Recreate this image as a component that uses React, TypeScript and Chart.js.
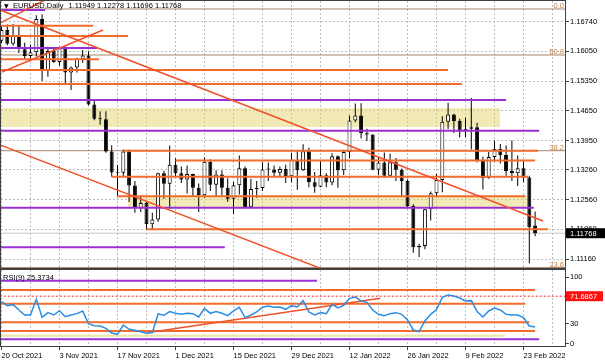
import React, { useEffect, useRef } from 'react';
import { Chart, registerables } from 'chart.js';

Chart.register(...registerables);

// ---------- data ----------
const dates = [
  '2021-10-20', '2021-10-21', '2021-10-22', '2021-10-25', '2021-10-26', '2021-10-27', '2021-10-28', '2021-10-29',
  '2021-11-01', '2021-11-02', '2021-11-03', '2021-11-04', '2021-11-05', '2021-11-08', '2021-11-09', '2021-11-10',
  '2021-11-11', '2021-11-12', '2021-11-15', '2021-11-16', '2021-11-17', '2021-11-18', '2021-11-19', '2021-11-22',
  '2021-11-23', '2021-11-24', '2021-11-25', '2021-11-26', '2021-11-29', '2021-11-30',
  '2021-12-01', '2021-12-02', '2021-12-03', '2021-12-06', '2021-12-07', '2021-12-08', '2021-12-09', '2021-12-10',
  '2021-12-13', '2021-12-14', '2021-12-15', '2021-12-16', '2021-12-17', '2021-12-20', '2021-12-21', '2021-12-22',
  '2021-12-23', '2021-12-24', '2021-12-27', '2021-12-28', '2021-12-29', '2021-12-30', '2021-12-31',
  '2022-01-03', '2022-01-04', '2022-01-05', '2022-01-06', '2022-01-07', '2022-01-10', '2022-01-11', '2022-01-12',
  '2022-01-13', '2022-01-14', '2022-01-17', '2022-01-18', '2022-01-19', '2022-01-20', '2022-01-21', '2022-01-24',
  '2022-01-25', '2022-01-26', '2022-01-27', '2022-01-28', '2022-01-31',
  '2022-02-01', '2022-02-02', '2022-02-03', '2022-02-04', '2022-02-07', '2022-02-08', '2022-02-09', '2022-02-10',
  '2022-02-11', '2022-02-14', '2022-02-15', '2022-02-16', '2022-02-17', '2022-02-18', '2022-02-21', '2022-02-22',
  '2022-02-23', '2022-02-24', '2022-02-25',
];

const opens = [
  1.1630, 1.1655, 1.1623, 1.1643, 1.1610, 1.1594, 1.1603, 1.1681, 1.1560, 1.1606,
  1.1580, 1.1612, 1.1555, 1.1567, 1.1587, 1.1595, 1.1480, 1.1446, 1.1445, 1.1369,
  1.1320, 1.1319, 1.1369, 1.1289, 1.1236, 1.1248, 1.1198, 1.1209, 1.1318, 1.1293,
  1.1338, 1.1318, 1.1303, 1.1316, 1.1284, 1.1266, 1.1345, 1.1291, 1.1315, 1.1284,
  1.1258, 1.1290, 1.1330, 1.1238, 1.1281, 1.1283, 1.1327, 1.1327, 1.1319, 1.1328,
  1.1311, 1.1350, 1.1325, 1.1370, 1.1297, 1.1286, 1.1313, 1.1296, 1.1358, 1.1325,
  1.1368, 1.1442, 1.1454, 1.1412, 1.1409, 1.1326, 1.1343, 1.1312, 1.1344, 1.1326,
  1.1300, 1.1241, 1.1144, 1.1147, 1.1233, 1.1271, 1.1302, 1.1439, 1.1456, 1.1441,
  1.1416, 1.1423, 1.1426, 1.1348, 1.1306, 1.1356, 1.1375, 1.1361, 1.1323, 1.1318,
  1.1330, 1.1308, 1.11949,
];
const highs = [
  1.1667, 1.1668, 1.1669, 1.1665, 1.1625, 1.1621, 1.1690, 1.1692, 1.1616, 1.1613,
  1.1616, 1.1617, 1.1569, 1.1590, 1.1608, 1.1605, 1.1492, 1.1464, 1.1464, 1.1384,
  1.1338, 1.1374, 1.1374, 1.1300, 1.1264, 1.1250, 1.1225, 1.1319, 1.1324, 1.1383,
  1.1353, 1.1334, 1.1336, 1.1317, 1.1294, 1.1355, 1.1351, 1.1325, 1.1325, 1.1306,
  1.1298, 1.1360, 1.1334, 1.1305, 1.1300, 1.1344, 1.1343, 1.1336, 1.1334, 1.1338,
  1.1366, 1.1370, 1.1386, 1.1378, 1.1321, 1.1346, 1.1318, 1.1365, 1.1360, 1.1373,
  1.1454, 1.1482, 1.1483, 1.1423, 1.1410, 1.1354, 1.1367, 1.1364, 1.1354, 1.1329,
  1.1303, 1.1245, 1.1152, 1.1234, 1.1275, 1.1316, 1.1452, 1.1484, 1.1458, 1.1446,
  1.1449, 1.1495, 1.1437, 1.1357, 1.1368, 1.1395, 1.1387, 1.1383, 1.1395, 1.1360,
  1.1346, 1.1312, 1.12278,
];
const lows = [
  1.1624, 1.1619, 1.1618, 1.1601, 1.1585, 1.1587, 1.1593, 1.1535, 1.1545, 1.1578,
  1.1571, 1.1529, 1.1514, 1.1555, 1.1578, 1.1478, 1.1443, 1.1432, 1.1366, 1.1310,
  1.1264, 1.1309, 1.1250, 1.1225, 1.1227, 1.1186, 1.1185, 1.1204, 1.1258, 1.1235,
  1.1309, 1.1295, 1.1270, 1.1263, 1.1227, 1.1260, 1.1276, 1.1264, 1.1266, 1.1251,
  1.1222, 1.1268, 1.1235, 1.1235, 1.1260, 1.1276, 1.1300, 1.1310, 1.1308, 1.1295,
  1.1297, 1.1279, 1.1323, 1.1285, 1.1272, 1.1285, 1.1285, 1.1290, 1.1284, 1.1314,
  1.1354, 1.1438, 1.1400, 1.1394, 1.1325, 1.1313, 1.1307, 1.1310, 1.1300, 1.1263,
  1.1235, 1.1131, 1.1121, 1.1139, 1.1207, 1.1264, 1.1273, 1.1422, 1.1413, 1.1402,
  1.1403, 1.1374, 1.1344, 1.1280, 1.1305, 1.1345, 1.1341, 1.1312, 1.1300, 1.1288,
  1.1297, 1.1106, 1.11696,
];
const closes = [
  1.1655, 1.1623, 1.1643, 1.1610, 1.1594, 1.1603, 1.1681, 1.1559, 1.1606, 1.1580,
  1.1612, 1.1555, 1.1567, 1.1587, 1.1595, 1.1480, 1.1446, 1.1445, 1.1369, 1.1320,
  1.1319, 1.1369, 1.1289, 1.1236, 1.1248, 1.1198, 1.1209, 1.1318, 1.1293, 1.1338,
  1.1318, 1.1303, 1.1316, 1.1284, 1.1266, 1.1345, 1.1291, 1.1315, 1.1284, 1.1258,
  1.1290, 1.1330, 1.1238, 1.1281, 1.1283, 1.1327, 1.1327, 1.1319, 1.1328, 1.1311,
  1.1350, 1.1325, 1.1370, 1.1297, 1.1286, 1.1313, 1.1296, 1.1358, 1.1325, 1.1368,
  1.1442, 1.1454, 1.1412, 1.1409, 1.1326, 1.1343, 1.1312, 1.1344, 1.1326, 1.1300,
  1.1241, 1.1144, 1.1147, 1.1233, 1.1271, 1.1302, 1.1439, 1.1456, 1.1441, 1.1416,
  1.1423, 1.1426, 1.1348, 1.1306, 1.1356, 1.1375, 1.1361, 1.1323, 1.1318, 1.1330,
  1.1308, 1.1191, 1.11768,
];

const rsiValues = [
  63.5, 57.5, 59, 51, 43.5, 43.5, 67, 40, 47, 43.5,
  50, 41, 43.5, 45.5, 49.5, 30.5, 27.5, 27, 23.5, 16.5,
  14.5, 28.5, 22, 20.5, 18.5, 16, 17, 45, 43, 48.5,
  46, 44.5, 46, 45.5, 40.5, 53.5, 46, 48.5, 46, 42.5,
  49.5, 55, 39.5, 43.5, 48, 55, 57, 55, 55.5, 52,
  57.5, 55.5, 65, 48, 43.5, 47, 45.5, 59.5, 54, 58,
  68.5, 70.5, 64.5, 62.5, 51, 44.5, 42.5, 45.5, 47, 44.5,
  36, 21, 18.5, 34.5, 44.5, 51.5, 70, 73.5, 72, 69,
  64.5, 65, 48.5, 40.5, 49.5, 54, 51, 44.5, 43.5, 43.5,
  39.5, 27, 25.3734,
];

const priceTicks = [1.1674, 1.1605, 1.1535, 1.1465, 1.1395, 1.1326, 1.1256, 1.1186, 1.1116];
const priceTickLabels = ['1.16740', '1.16050', '1.15350', '1.14650', '1.13950', '1.13260', '1.12560', '1.11860', '1.11160'];
const rsiTicks = [100, 30, 0];
const rsiTickLabels = ['100', '30', '0'];
const gridTicks = [0, 5, 10, 15, 20, 25, 30, 35, 40, 45, 50, 55, 60, 65, 70, 75, 80, 85, 90, 95];
const dateTickLabels = ['20 Oct 2021', '3 Nov 2021', '17 Nov 2021', '1 Dec 2021', '15 Dec 2021',
  '29 Dec 2021', '12 Jan 2022', '26 Jan 2022', '9 Feb 2022', '23 Feb 2022'];

const orangeLevels = [
  { price: 1.16653, from: -1, to: 15.8 },
  { price: 1.16410, from: -1, to: 21.8 },
  { price: 1.15862, from: -1, to: 16.8 },
  { price: 1.15610, from: -1, to: 77 },
  { price: 1.15281, from: -1, to: 79.4 },
  { price: 1.13710, from: 21, to: 92.5 },
  { price: 1.13480, from: 30, to: 92 },
  { price: 1.13100, from: 19, to: 90.8 },
  { price: 1.12640, from: 20, to: 90.3 },
  { price: 1.11860, from: 25, to: 94.2 },
];
const purpleLevels = [
  { price: 1.17023, from: -1, to: 7.5 },
  { price: 1.16128, from: -1, to: 16.5 },
  { price: 1.14904, from: -1, to: 87 },
  { price: 1.14181, from: -1, to: 92.7 },
  { price: 1.12366, from: -1, to: 91.8 },
  { price: 1.11437, from: -1, to: 38.5 },
];
const zones = [
  { top: 1.14716, bottom: 1.14269, from: -1, to: 86 },
  { top: 1.12630, bottom: 1.12390, from: 21.8, to: 90.6 },
];
const trendLines = [
  { x1: -0.26, y1: 1.17022, x2: 93.36, y2: 1.12055 },
  { x1: -0.26, y1: 1.13849, x2: 55.9, y2: 1.10895 },
  { x1: -0.26, y1: 1.16716, x2: 7.5, y2: 1.17258 },
  { x1: 0.09, y1: 1.15563, x2: 17.5, y2: 1.16552 },
];
const fibLevels = [
  { price: 1.17046, label: '0.0' },
  { price: 1.15963, label: '50.0' },
  { price: 1.13710, label: '38.2' },
  { price: 1.10960, label: '23.6' },
];

const rsiOrangeLevels = [
  { v: 81, from: -1, to: 92 },
  { v: 60.4, from: -1, to: 90.3 },
  { v: 32.5, from: -1, to: 91 },
  { v: 19.5, from: -1, to: 92 },
];
const rsiPurpleLevels = [
  { v: 94.9, from: -1, to: 54.4 },
  { v: 7, from: -1, to: 92.7 },
];
const rsiYellowLevels = [{ v: 12.4, from: -1, to: 86.8 }];
const rsiMarkLevel = 71.6867;
const rsiTrend = { x1: 25.1, y1: 16.9, x2: 65.3, y2: 68.5 };

const symbolTitle = 'EURUSD,Daily';
const rsiTitle = 'RSI(9)';

// ---------- styles ----------
const FONT = '"Liberation Sans", Arial, sans-serif';
const ORANGE = '#f36b2d';
const TREND = '#f0522b';
const PURPLE = '#9a2fd4';
const FIB_LINE = '#a9856b';
const FIB_TEXT = '#c0864e';
const ZONE = 'rgba(228,214,110,0.5)';
const GRID = '#bdbdbd';
const FRAME = '#404040';
const X_MIN = -0.0862;
const X_MAX = 97.155;
const P_MIN = 1.109492;
const P_MAX = 1.172343;
const R_MIN = -3.0;
const R_MAX = 110.94;

const hline = (y: number, from: number, to: number, color: string, width: number, order: number, dash: number[] = []) => ({
  type: 'line',
  data: [{ x: from, y }, { x: to, y }],
  borderColor: color,
  borderWidth: width,
  borderDash: dash,
  pointRadius: 0,
  fill: false,
  tension: 0,
  order,
});
const seg = (x1: number, y1: number, x2: number, y2: number, color: string, width: number, order: number) => ({
  type: 'line',
  data: [{ x: x1, y: y1 }, { x: x2, y: y2 }],
  borderColor: color,
  borderWidth: width,
  pointRadius: 0,
  fill: false,
  tension: 0,
  order,
});

export default function App() {
  const mainRef = useRef<HTMLCanvasElement>(null);
  const rsiRef = useRef<HTMLCanvasElement>(null);

  useEffect(() => {
    const n = dates.length;
    const last = n - 1;
    const idx = dates.map((_, i) => i);

    const wickData = idx.map((i) => ({ x: i, y: [lows[i], highs[i]] }));
    const bodyData = idx.map((i) => ({ x: i, y: [opens[i], closes[i]] }));
    const bodyColors = idx.map((i) => (closes[i] >= opens[i] ? '#ffffff' : '#000000'));

    const headerText = [opens[last], highs[last], lows[last], closes[last]].map((v) => v.toFixed(5)).join(' ');

    const mainOverlay = {
      id: 'mainOverlay',
      afterDraw(chart: any) {
        const { ctx, chartArea: a, scales } = chart;
        const y = scales.y;
        ctx.save();
        ctx.strokeStyle = FRAME;
        ctx.lineWidth = 1;
        ctx.strokeRect(a.left - 0.5, a.top - 0.5, a.right - a.left + 1, a.bottom - a.top + 1);
        ctx.font = `7.5px ${FONT}`;
        ctx.textAlign = 'right';
        ctx.textBaseline = 'alphabetic';
        ctx.fillStyle = FIB_TEXT;
        for (const f of fibLevels) ctx.fillText(f.label, a.right - 1, y.getPixelForValue(f.price) - 1);
        ctx.fillStyle = '#000';
        ctx.textAlign = 'left';
        ctx.textBaseline = 'middle';
        ctx.font = '6px "DejaVu Sans"';
        ctx.fillText('\u25BC', a.left + 3, a.top + 5);
        ctx.font = `7.5px ${FONT}`;
        ctx.fillText(symbolTitle, a.left + 12, a.top + 5);
        const tw = ctx.measureText(symbolTitle).width;
        ctx.fillText(headerText, Math.max(a.left + 59, a.left + 12 + tw + 5), a.top + 5);
        const py = y.getPixelForValue(closes[last]);
        ctx.fillStyle = '#000';
        ctx.fillRect(a.right + 1, py - 5, 40, 10);
        ctx.fillStyle = '#fff';
        ctx.fillText(closes[last].toFixed(5), a.right + 5, py + 0.5);
        ctx.restore();
      },
    };

    const rsiOverlay = {
      id: 'rsiOverlay',
      afterDraw(chart: any) {
        const { ctx, chartArea: a, scales } = chart;
        const y = scales.y;
        ctx.save();
        ctx.strokeStyle = FRAME;
        ctx.lineWidth = 1;
        ctx.strokeRect(a.left - 0.5, a.top - 0.5, a.right - a.left + 1, a.bottom - a.top + 1);
        ctx.font = `7.5px ${FONT}`;
        ctx.fillStyle = '#000';
        ctx.textAlign = 'left';
        ctx.textBaseline = 'middle';
        ctx.fillText(`${rsiTitle} ${rsiValues[last].toFixed(4)}`, a.left + 2, a.top + 8);
        const py = y.getPixelForValue(rsiMarkLevel);
        ctx.fillStyle = '#ff1010';
        ctx.fillRect(a.right + 1, py - 5, 37, 10);
        ctx.fillStyle = '#fff';
        ctx.fillText(rsiMarkLevel.toFixed(4), a.right + 5, py + 0.5);
        ctx.restore();
      },
    };

    const mainDatasets: any[] = [];
    zones.forEach((z) =>
      mainDatasets.push({
        type: 'line',
        data: [{ x: z.from, y: z.top }, { x: z.to, y: z.top }],
        borderWidth: 0,
        pointRadius: 0,
        backgroundColor: ZONE,
        fill: { value: z.bottom },
        order: 100,
      }),
    );
    fibLevels.forEach((f) => mainDatasets.push(hline(f.price, -1, 99, FIB_LINE, 1, 90)));
    mainDatasets.push(hline(closes[last], -1, 99, '#c8c8c8', 1, 80));
    mainDatasets.push({
      type: 'bar',
      data: wickData,
      backgroundColor: '#000000',
      borderWidth: 0,
      barThickness: 1,
      grouped: false,
      inflateAmount: 0,
      order: 50,
      clip: 0,
    });
    mainDatasets.push({
      type: 'bar',
      data: bodyData,
      backgroundColor: bodyColors,
      borderColor: '#000000',
      borderWidth: 1,
      borderSkipped: false,
      barThickness: 4,
      minBarLength: 1,
      grouped: false,
      inflateAmount: 0,
      order: 40,
      clip: 0,
    });
    purpleLevels.forEach((l) => mainDatasets.push(hline(l.price, l.from, l.to, PURPLE, 2, 20)));
    orangeLevels.forEach((l) => mainDatasets.push(hline(l.price, l.from, l.to, ORANGE, 2, 15)));
    trendLines.forEach((t) => mainDatasets.push(seg(t.x1, t.y1, t.x2, t.y2, TREND, 1.5, 10)));

    const xGridTickBuilder = (s: any) => {
      s.ticks = gridTicks.map((v) => ({ value: v }));
    };

    const main = new Chart(mainRef.current as HTMLCanvasElement, {
      type: 'bar',
      data: { datasets: mainDatasets },
      options: {
        animation: false,
        responsive: false,
        maintainAspectRatio: false,
        events: [],
        layout: { padding: { left: 1, top: 1, right: 0, bottom: 1 } },
        plugins: { legend: { display: false }, tooltip: { enabled: false } },
        scales: {
          x: {
            type: 'linear',
            min: X_MIN,
            max: X_MAX,
            offset: false,
            grid: { color: GRID, drawTicks: false, offset: false, lineWidth: 1 },
            border: { display: false, dash: [2, 2] },
            ticks: { display: false },
            afterBuildTicks: xGridTickBuilder,
            afterFit: (s: any) => {
              s.height = 0;
              s.paddingLeft = 0;
              s.paddingRight = 0;
            },
          },
          y: {
            type: 'linear',
            position: 'right',
            min: P_MIN,
            max: P_MAX,
            grid: { color: GRID, tickColor: FRAME, tickLength: 4, tickBorderDash: [] },
            border: { display: false, dash: [2, 2] },
            ticks: {
              font: { family: FONT, size: 7.5 },
              color: '#000',
              padding: 1,
              autoSkip: false,
              callback: (_v: any, i: number) => priceTickLabels[i],
            },
            afterBuildTicks: (s: any) => {
              s.ticks = priceTicks.map((v) => ({ value: v }));
            },
            afterFit: (s: any) => {
              s.width = 40;
              s.paddingTop = 0;
              s.paddingBottom = 0;
            },
          },
        },
      } as any,
      plugins: [mainOverlay],
    } as any);

    const rsiDatasets: any[] = [];
    rsiYellowLevels.forEach((l) => rsiDatasets.push(hline(l.v, l.from, l.to, '#efe3a6', 2, 60)));
    rsiDatasets.push(hline(rsiMarkLevel, -1, 99, '#ff2020', 1, 55, [2, 2]));
    rsiPurpleLevels.forEach((l) => rsiDatasets.push(hline(l.v, l.from, l.to, PURPLE, 2, 40)));
    rsiOrangeLevels.forEach((l) => rsiDatasets.push(hline(l.v, l.from, l.to, ORANGE, 2, 35)));
    rsiDatasets.push(seg(rsiTrend.x1, rsiTrend.y1, rsiTrend.x2, rsiTrend.y2, TREND, 1.5, 30));
    rsiDatasets.push({
      type: 'line',
      data: idx.map((i) => ({ x: i, y: rsiValues[i] })),
      borderColor: '#2b8de3',
      borderWidth: 1.5,
      pointRadius: 0,
      fill: false,
      tension: 0,
      order: 10,
    });

    const rsi = new Chart(rsiRef.current as HTMLCanvasElement, {
      type: 'line',
      data: { datasets: rsiDatasets },
      options: {
        animation: false,
        responsive: false,
        maintainAspectRatio: false,
        events: [],
        layout: { padding: { left: 1, top: 1, right: 0, bottom: 0 } },
        plugins: { legend: { display: false }, tooltip: { enabled: false } },
        scales: {
          x: {
            type: 'linear',
            min: X_MIN,
            max: X_MAX,
            offset: false,
            grid: {
              color: GRID,
              offset: false,
              tickLength: 4,
              tickBorderDash: [],
              tickColor: (c: any) => (c.tick && c.tick.value % 10 === 0 ? FRAME : 'rgba(0,0,0,0)'),
            },
            border: { display: false, dash: [2, 2] },
            ticks: {
              autoSkip: false,
              maxRotation: 0,
              minRotation: 0,
              align: 'start',
              padding: 1,
              font: { family: FONT, size: 7.5 },
              color: '#000',
              callback: (v: any) => (Number(v) % 10 === 0 ? dateTickLabels[Number(v) / 10] : ''),
            },
            afterBuildTicks: xGridTickBuilder,
            afterFit: (s: any) => {
              s.height = 17;
              s.paddingLeft = 0;
              s.paddingRight = 0;
            },
          },
          y: {
            type: 'linear',
            position: 'right',
            min: R_MIN,
            max: R_MAX,
            grid: { drawOnChartArea: false, tickColor: FRAME, tickLength: 4, tickBorderDash: [] },
            border: { display: false },
            ticks: {
              font: { family: FONT, size: 7.5 },
              color: '#000',
              padding: 1,
              autoSkip: false,
              callback: (_v: any, i: number) => rsiTickLabels[i],
            },
            afterBuildTicks: (s: any) => {
              s.ticks = rsiTicks.map((v) => ({ value: v }));
            },
            afterFit: (s: any) => {
              s.width = 40;
              s.paddingTop = 0;
              s.paddingBottom = 0;
            },
          },
        },
      } as any,
      plugins: [rsiOverlay],
    } as any);

    return () => {
      main.destroy();
      rsi.destroy();
    };
  }, []);

  return (
    <div style={{ position: 'absolute', left: 0, top: 0, width: 605, height: 363, background: '#ffffff' }}>
      <canvas ref={mainRef} width={605} height={269} style={{ position: 'absolute', left: 0, top: 0 }} />
      <canvas ref={rsiRef} width={605} height={94} style={{ position: 'absolute', left: 0, top: 269 }} />
    </div>
  );
}
